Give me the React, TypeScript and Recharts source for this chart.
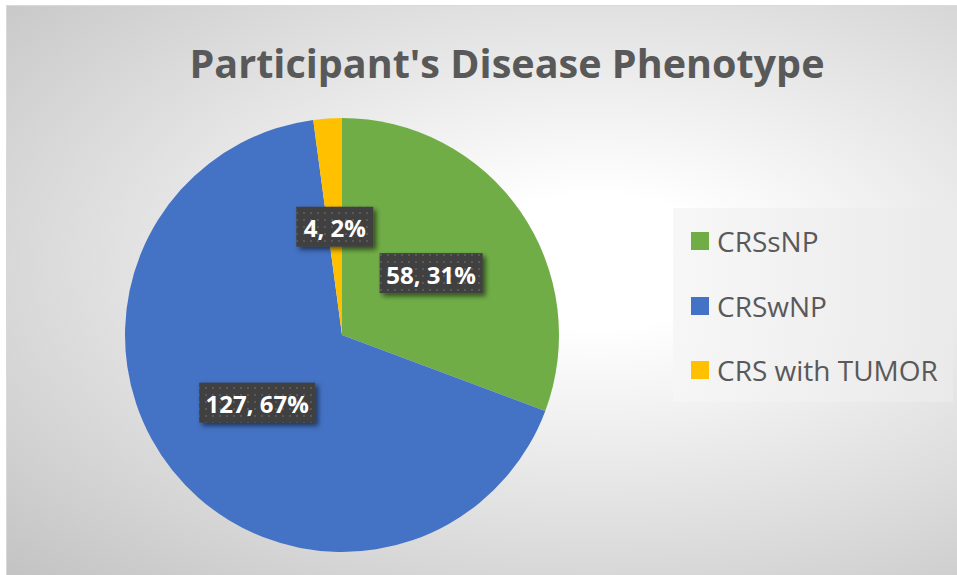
import React from 'react';
import { PieChart, Pie, Cell, Legend } from 'recharts';

const categories = ['CRSsNP', 'CRSwNP', 'CRS with TUMOR'];
const counts = [58, 127, 4];
const colors = ['#70AD47', '#4472C4', '#FFC000'];
const title = "Participant's Disease Phenotype";

const data = categories.map((name, i) => ({ name, value: counts[i] }));

const RAD = Math.PI / 180;

function renderLabel(props: any) {
  const { cx, cy, midAngle, outerRadius, value, percent } = props;
  const r = outerRadius * 0.5;
  const x = cx + r * Math.cos(-midAngle * RAD);
  const y = cy + r * Math.sin(-midAngle * RAD);
  const text = `${value}, ${Math.round(percent * 100)}%`;
  const w = text.length * 13 + 12;
  const h = 40;
  return (
    <g>
      <rect x={x - w / 2} y={y - h / 2} width={w} height={h} fill="#404040" filter="url(#lblShadow)" />
      <rect x={x - w / 2} y={y - h / 2} width={w} height={h} fill="url(#lblDots)" />
      <text
        x={x}
        y={y + 1}
        textAnchor="middle"
        dominantBaseline="central"
        fill="#ffffff"
        fontWeight={700}
        fontSize={24}
        fontFamily="'Open Sans', sans-serif"
      >
        {text}
      </text>
    </g>
  );
}

function LegendContent() {
  return (
    <div
      style={{
        width: 280,
        height: 194,
        background: 'linear-gradient(to right, rgba(246,246,246,0.9), rgba(234,234,234,0.9))',
        boxSizing: 'border-box',
        paddingTop: 1,
      }}
    >
      {categories.map((name, i) => (
        <div key={name} style={{ display: 'flex', alignItems: 'center', height: 64.5, marginLeft: 18 }}>
          <div style={{ width: 18, height: 18, background: colors[i], marginRight: 8 }} />
          <span
            style={{
              fontFamily: "'Open Sans', sans-serif",
              fontSize: 28,
              color: '#595959',
              lineHeight: '28px',
              whiteSpace: 'nowrap',
            }}
          >
            {name}
          </span>
        </div>
      ))}
    </div>
  );
}

export default function App() {
  return (
    <div style={{ position: 'absolute', left: 0, top: 0, width: 957, height: 575, background: '#ffffff', overflow: 'hidden' }}>
      <svg width={0} height={0} style={{ position: 'absolute' }}>
        <defs>
          <pattern id="lblDots" x={0} y={0} width={7} height={7} patternUnits="userSpaceOnUse">
            <rect x={2} y={2} width={2} height={2} fill="#595959" />
          </pattern>
          <filter id="lblShadow" x="-20%" y="-30%" width="150%" height="180%">
            <feDropShadow dx={3} dy={3} stdDeviation={2.5} floodColor="#000" floodOpacity={0.55} />
          </filter>
        </defs>
      </svg>
      <div
        style={{
          position: 'absolute',
          left: 6,
          top: 5,
          width: 951,
          height: 570,
          boxSizing: 'border-box',
          borderTop: '1px solid #d9d9d9',
          borderLeft: '1px solid #d9d9d9',
          background: 'radial-gradient(ellipse farthest-corner at 62% 45%, #ffffff 0%, #ffffff 15%, #c3c3c3 100%)',
        }}
      />
      <svg width={957} height={120} style={{ position: 'absolute', left: 0, top: 0 }}>
        <text
          x={507}
          y={78}
          textAnchor="middle"
          fill="#595959"
          fontWeight={700}
          fontSize={40}
          fontFamily="'Open Sans', sans-serif"
          textLength={635}
          lengthAdjust="spacingAndGlyphs"
        >
          {title}
        </text>
      </svg>
      <div style={{ position: 'absolute', left: 0, top: 0 }}>
        <PieChart width={957} height={575} margin={{ top: 0, right: 0, bottom: 0, left: 0 }}>
          <Pie
            data={data}
            dataKey="value"
            nameKey="name"
            cx={342}
            cy={335}
            outerRadius={217}
            startAngle={90}
            endAngle={-270}
            stroke="none"
            label={renderLabel}
            labelLine={false}
            isAnimationActive={false}
          >
            {data.map((d, i) => (
              <Cell key={d.name} fill={colors[i]} />
            ))}
          </Pie>
          <Legend
            layout="vertical"
            content={LegendContent}
            wrapperStyle={{ position: 'absolute', left: 673, top: 208, width: 280, height: 194 }}
          />
        </PieChart>
      </div>
    </div>
  );
}
